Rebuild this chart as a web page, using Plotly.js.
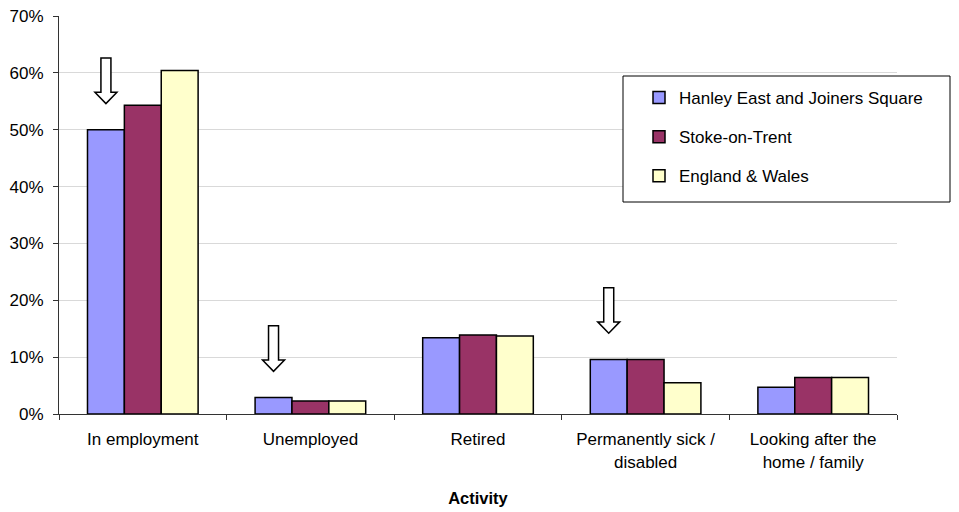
<!DOCTYPE html>
<html>
<head>
<meta charset="utf-8">
<script src="https://cdn.plot.ly/plotly-3.0.1.min.js"></script>
<style>html,body{margin:0;padding:0;background:#fff;}#chart{width:959px;height:512px;}</style>
</head>
<body>
<div id="chart"></div>
<script>
const categories = ['In employment', 'Unemployed', 'Retired', 'Permanently sick / disabled', 'Looking after the home / family'];
const tickLabels = ['In employment', 'Unemployed', 'Retired', 'Permanently sick /<br>disabled', 'Looking after the<br>home / family'];
const seriesNames = ['Hanley East and Joiners Square', 'Stoke-on-Trent', 'England & Wales'];
const hanley = [50.0, 2.9, 13.4, 9.6, 4.7];
const stoke = [54.3, 2.3, 13.9, 9.6, 6.4];
const englandWales = [60.4, 2.3, 13.7, 5.5, 6.4];
const arrowCategories = ['In employment', 'Unemployed', 'Permanently sick / disabled'];
const colors = ['#9999FF', '#993366', '#FFFFCC'];

const font = 'Liberation Sans, Arial, sans-serif';
const bargap = 0.34;
const W = 959, H = 512;
const margin = {l: 59, r: 62, t: 16, b: 98};
const plotW = W - margin.l - margin.r;
const plotH = H - margin.t - margin.b;

const allSeries = [hanley, stoke, englandWales];
const traces = allSeries.map((vals, k) => ({
  type: 'bar',
  x: categories,
  y: vals,
  name: seriesNames[k],
  legendgroup: 'g' + k,
  marker: {color: colors[k], line: {color: '#000', width: 1.5}},
  hoverinfo: 'skip'
}));

// Outlined down-arrows above the Hanley bars
const shapes = [];
arrowCategories.forEach(cat => {
  const i = categories.indexOf(cat);
  const v = hanley[i];
  const cx = (i + 0.5 - (1 - bargap) / 3) / categories.length;
  const sh = 5 / plotW, hh = 11 / plotW;
  const tip = v + 4.6, base = tip + 2.0, top = tip + 8.0;
  const path = `M ${cx - sh} ${top} L ${cx + sh} ${top} L ${cx + sh} ${base} L ${cx + hh} ${base} L ${cx} ${tip} L ${cx - hh} ${base} L ${cx - sh} ${base} Z`;
  shapes.push({type: 'path', xref: 'paper', yref: 'y', path: path,
    fillcolor: '#fff', line: {color: '#000', width: 1.5}, layer: 'above'});
});
// Legend frame
shapes.push({type: 'rect', xref: 'paper', yref: 'paper',
  x0: (623 - margin.l) / plotW, x1: (950 - margin.l) / plotW,
  y0: (H - margin.b - 202) / plotH, y1: (H - margin.b - 76) / plotH,
  fillcolor: '#fff', line: {color: '#000', width: 1}, layer: 'above'});

const layout = {
  width: W, height: H,
  margin: margin,
  paper_bgcolor: '#fff', plot_bgcolor: '#fff',
  font: {family: font, size: 17, color: '#000'},
  barmode: 'group',
  bargap: bargap, bargroupgap: 0,
  showlegend: true,
  legend: {
    x: (639 - margin.l) / plotW, xanchor: 'left',
    y: (H - margin.b - 80) / plotH, yanchor: 'top',
    bgcolor: 'rgba(0,0,0,0)', borderwidth: 0,
    traceorder: 'grouped', tracegroupgap: 14,
    font: {family: font, size: 17, color: '#000'}
  },
  xaxis: {
    type: 'category',
    tickvals: categories, ticktext: tickLabels,
    showline: true, linecolor: '#333', linewidth: 1,
    ticks: 'outside', ticklen: 5, tickcolor: '#333', tickson: 'boundaries',
    ticklabelstandoff: 10,
    showgrid: false, zeroline: false,
    tickfont: {family: font, size: 17, color: '#000'},
    title: {text: '<b>Activity</b>', font: {family: font, size: 16.5, color: '#000'}, standoff: 21}
  },
  yaxis: {
    range: [0, 70], dtick: 10, ticksuffix: '%',
    showline: true, linecolor: '#333', linewidth: 1,
    ticks: 'outside', ticklen: 5, tickcolor: '#333',
    ticklabelstandoff: 6,
    showgrid: true, gridcolor: '#d9d9d9', gridwidth: 1,
    zeroline: false,
    tickfont: {family: font, size: 17, color: '#000'}
  },
  shapes: shapes
};

Plotly.newPlot('chart', traces, layout, {displayModeBar: false, staticPlot: true});
</script>
</body>
</html>
